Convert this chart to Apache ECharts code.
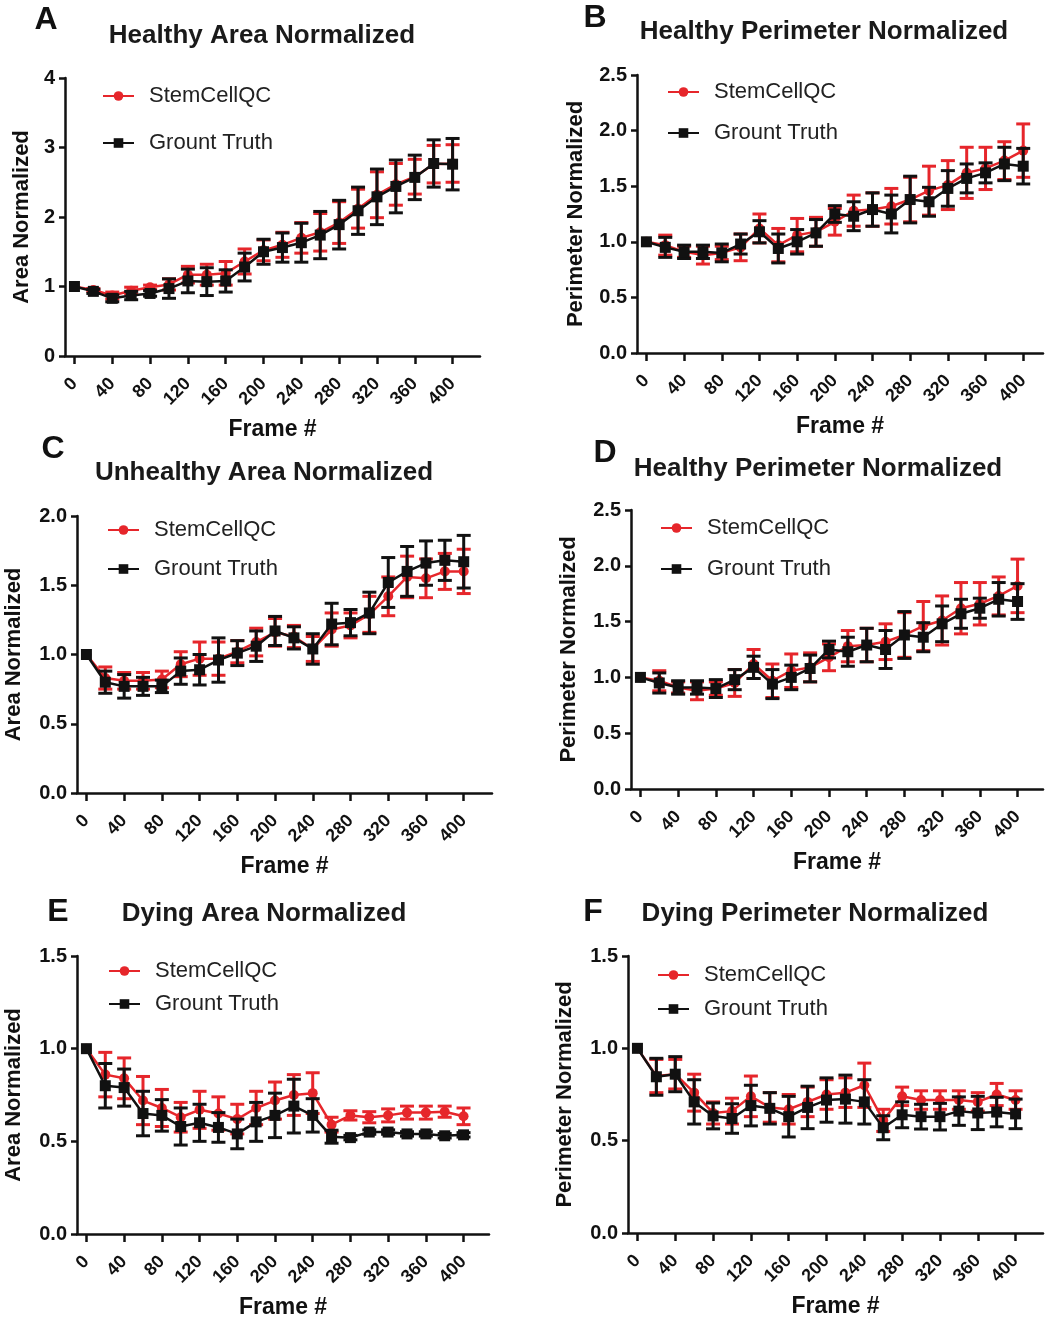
<!DOCTYPE html>
<html>
<head>
<meta charset="utf-8">
<script src="https://cdn.jsdelivr.net/npm/echarts@6/dist/echarts.min.js"></script>
<style>
  html, body { margin: 0; padding: 0; background: #fff; }
  #chart { width: 1045px; height: 1319px; }
</style>
</head>
<body>
<div id="chart"></div>
<script>
var frames = [0, 20, 40, 60, 80, 100, 120, 140, 160, 180, 200, 220, 240, 260, 280, 300, 320, 340, 360, 380, 400];
var xTicks = [0, 40, 80, 120, 160, 200, 240, 280, 320, 360, 400];

// A - healthy area
var healthyAreaQC    = [1.00, 0.95, 0.87, 0.94, 0.99, 1.03, 1.17, 1.17, 1.19, 1.36, 1.52, 1.60, 1.70, 1.78, 1.92, 2.12, 2.32, 2.47, 2.58, 2.76, 2.77];
var healthyAreaQCErr = [0, 0.02, 0.05, 0.05, 0.03, 0.08, 0.12, 0.15, 0.17, 0.18, 0.15, 0.18, 0.22, 0.27, 0.30, 0.28, 0.33, 0.30, 0.25, 0.27, 0.27];
var healthyAreaGT    = [1.00, 0.93, 0.83, 0.87, 0.90, 0.97, 1.08, 1.07, 1.08, 1.28, 1.50, 1.56, 1.63, 1.74, 1.89, 2.09, 2.29, 2.44, 2.57, 2.77, 2.76];
var healthyAreaGTErr = [0, 0.03, 0.05, 0.06, 0.04, 0.14, 0.17, 0.20, 0.16, 0.20, 0.18, 0.21, 0.28, 0.34, 0.35, 0.34, 0.40, 0.38, 0.32, 0.34, 0.37];

// B / D - healthy perimeter
var healthyPerimQC    = [1.00, 0.97, 0.91, 0.88, 0.90, 0.95, 1.12, 0.97, 1.06, 1.09, 1.18, 1.28, 1.29, 1.32, 1.38, 1.46, 1.51, 1.62, 1.66, 1.73, 1.82];
var healthyPerimQCErr = [0, 0.09, 0.05, 0.08, 0.06, 0.12, 0.13, 0.15, 0.15, 0.13, 0.12, 0.14, 0.15, 0.16, 0.20, 0.22, 0.22, 0.23, 0.19, 0.17, 0.24];
var healthyPerimGT    = [1.00, 0.95, 0.91, 0.91, 0.90, 0.98, 1.09, 0.94, 1.00, 1.08, 1.25, 1.23, 1.29, 1.25, 1.38, 1.36, 1.48, 1.57, 1.62, 1.70, 1.68];
var healthyPerimGTErr = [0, 0.09, 0.06, 0.06, 0.08, 0.09, 0.10, 0.13, 0.11, 0.12, 0.075, 0.13, 0.15, 0.17, 0.21, 0.13, 0.16, 0.13, 0.09, 0.15, 0.16];

// C - unhealthy area
var unhealthyAreaQC    = [1.00, 0.83, 0.81, 0.81, 0.82, 0.93, 0.97, 0.97, 1.02, 1.09, 1.16, 1.13, 1.04, 1.18, 1.21, 1.29, 1.42, 1.56, 1.55, 1.60, 1.60];
var unhealthyAreaQCErr = [0, 0.08, 0.06, 0.06, 0.06, 0.09, 0.12, 0.12, 0.08, 0.10, 0.10, 0.08, 0.09, 0.12, 0.09, 0.13, 0.14, 0.15, 0.14, 0.13, 0.16];
var unhealthyAreaGT    = [1.00, 0.80, 0.77, 0.77, 0.77, 0.88, 0.89, 0.96, 1.01, 1.06, 1.17, 1.12, 1.04, 1.22, 1.23, 1.30, 1.52, 1.60, 1.66, 1.68, 1.67];
var unhealthyAreaGTErr = [0, 0.08, 0.085, 0.065, 0.045, 0.095, 0.11, 0.16, 0.09, 0.11, 0.105, 0.08, 0.11, 0.15, 0.095, 0.15, 0.18, 0.18, 0.16, 0.145, 0.19];

// E - dying area
var dyingAreaQC    = [1.00, 0.86, 0.84, 0.72, 0.68, 0.63, 0.67, 0.65, 0.62, 0.68, 0.72, 0.75, 0.76, 0.59, 0.64, 0.63, 0.64, 0.655, 0.655, 0.66, 0.635];
var dyingAreaQCErr = [0, 0.12, 0.11, 0.13, 0.10, 0.08, 0.10, 0.09, 0.08, 0.09, 0.10, 0.11, 0.11, 0.04, 0.025, 0.03, 0.035, 0.035, 0.035, 0.03, 0.045];
var dyingAreaGT    = [1.00, 0.80, 0.79, 0.65, 0.64, 0.58, 0.60, 0.575, 0.54, 0.605, 0.64, 0.69, 0.64, 0.525, 0.52, 0.55, 0.55, 0.54, 0.54, 0.53, 0.535];
var dyingAreaGTErr = [0, 0.12, 0.10, 0.12, 0.085, 0.10, 0.10, 0.08, 0.08, 0.105, 0.12, 0.145, 0.09, 0.035, 0.012, 0.012, 0.012, 0.012, 0.012, 0.012, 0.012];

// F - dying perimeter
var dyingPerimQC    = [1.00, 0.85, 0.86, 0.76, 0.65, 0.66, 0.74, 0.68, 0.67, 0.71, 0.75, 0.76, 0.80, 0.61, 0.74, 0.72, 0.72, 0.72, 0.71, 0.75, 0.72];
var dyingPerimQCErr = [0, 0.09, 0.08, 0.10, 0.06, 0.07, 0.11, 0.08, 0.08, 0.08, 0.08, 0.08, 0.12, 0.06, 0.05, 0.05, 0.05, 0.05, 0.05, 0.06, 0.05];
var dyingPerimGT    = [1.00, 0.846, 0.86, 0.71, 0.634, 0.62, 0.69, 0.675, 0.63, 0.68, 0.72, 0.725, 0.71, 0.57, 0.64, 0.63, 0.63, 0.66, 0.65, 0.655, 0.645];
var dyingPerimGTErr = [0, 0.10, 0.095, 0.12, 0.07, 0.08, 0.11, 0.085, 0.11, 0.115, 0.12, 0.13, 0.12, 0.065, 0.07, 0.067, 0.072, 0.077, 0.09, 0.08, 0.08];

var RED = '#e6262b';
var BLACK = '#111111';
var FONT = '"Liberation Sans", Arial, Helvetica, sans-serif';

var panels = [
  { letter: 'A', title: 'Healthy Area Normalized', yName: 'Area Normalized', yMax: 4, yStep: 1, dec: 0,
    grid: { left: 65, top: 78, width: 415, height: 278 }, xMax: 429, yGap: 32,
    letterPos: [46, 20], titlePos: [262, 36], legendPos: [102, 85], legendGap: 25,
    qc: healthyAreaQC, qcErr: healthyAreaQCErr, gt: healthyAreaGT, gtErr: healthyAreaGTErr },
  { letter: 'B', title: 'Healthy Perimeter Normalized', yName: 'Perimeter Normalized', yMax: 2.5, yStep: 0.5, dec: 1,
    grid: { left: 637, top: 75, width: 406, height: 278 }, xMax: 421, yGap: 50,
    letterPos: [595, 18], titlePos: [824, 32], legendPos: [667, 81], legendGap: 19,
    qc: healthyPerimQC, qcErr: healthyPerimQCErr, gt: healthyPerimGT, gtErr: healthyPerimGTErr },
  { letter: 'C', title: 'Unhealthy Area Normalized', yName: 'Area Normalized', yMax: 2, yStep: 0.5, dec: 1,
    grid: { left: 77, top: 516, width: 415, height: 277 }, xMax: 430, yGap: 52,
    letterPos: [53, 449], titlePos: [264, 473], legendPos: [107, 519], legendGap: 17,
    qc: unhealthyAreaQC, qcErr: unhealthyAreaQCErr, gt: unhealthyAreaGT, gtErr: unhealthyAreaGTErr },
  { letter: 'D', title: 'Healthy Perimeter Normalized', yName: 'Perimeter Normalized', yMax: 2.5, yStep: 0.5, dec: 1,
    grid: { left: 631, top: 510, width: 412, height: 279 }, xMax: 427, yGap: 51,
    letterPos: [605, 453], titlePos: [818, 469], legendPos: [660, 517], legendGap: 19,
    qc: healthyPerimQC, qcErr: healthyPerimQCErr, gt: healthyPerimGT, gtErr: healthyPerimGTErr },
  { letter: 'E', title: 'Dying Area Normalized', yName: 'Area Normalized', yMax: 1.5, yStep: 0.5, dec: 1,
    grid: { left: 77, top: 956, width: 412, height: 278 }, xMax: 427, yGap: 52,
    letterPos: [58, 912], titlePos: [264, 914], legendPos: [108, 960], legendGap: 11,
    qc: dyingAreaQC, qcErr: dyingAreaQCErr, gt: dyingAreaGT, gtErr: dyingAreaGTErr },
  { letter: 'F', title: 'Dying Perimeter Normalized', yName: 'Perimeter Normalized', yMax: 1.5, yStep: 0.5, dec: 1,
    grid: { left: 628, top: 956, width: 415, height: 277 }, xMax: 429, yGap: 52,
    letterPos: [593, 912], titlePos: [815, 914], legendPos: [657, 964], legendGap: 12,
    qc: dyingPerimQC, qcErr: dyingPerimQCErr, gt: dyingPerimGT, gtErr: dyingPerimGTErr }
];

// error bar drawing: vertical line + two caps
function errorBars(color) {
  return function (params, api) {
    var x = api.value(0), lo = api.value(1), hi = api.value(2);
    if (hi - lo <= 0) return;
    var top = api.coord([x, hi]);
    var bot = api.coord([x, lo]);
    var cap = 7;
    var style = { stroke: color, lineWidth: 3 };
    return {
      type: 'group',
      children: [
        { type: 'line', shape: { x1: top[0], y1: top[1], x2: bot[0], y2: bot[1] }, style: style },
        { type: 'line', shape: { x1: top[0] - cap, y1: top[1], x2: top[0] + cap, y2: top[1] }, style: style },
        { type: 'line', shape: { x1: bot[0] - cap, y1: bot[1], x2: bot[0] + cap, y2: bot[1] }, style: style }
      ]
    };
  };
}

function pairs(means) {
  return frames.map(function (f, i) { return [f, means[i]]; });
}
function ranges(means, errs) {
  return frames.map(function (f, i) { return [f, means[i] - errs[i], means[i] + errs[i]]; });
}

var grids = [], xAxes = [], yAxes = [], series = [], legends = [], graphics = [];

panels.forEach(function (p, k) {
  grids.push({ left: p.grid.left, top: p.grid.top, width: p.grid.width, height: p.grid.height, outerBoundsMode: 'none' });

  xAxes.push({
    type: 'value', gridIndex: k, min: -10, max: p.xMax,
    name: 'Frame #', nameLocation: 'middle', nameGap: 62, nameMoveOverlap: false,
    nameTextStyle: { fontFamily: FONT, fontWeight: 'bold', fontSize: 23, color: BLACK },
    axisLine: { show: true, onZero: false, lineStyle: { color: BLACK, width: 2.5 } },
    axisTick: { show: true, length: 8, customValues: xTicks, lineStyle: { color: BLACK, width: 2.5 } },
    axisLabel: { customValues: xTicks, rotate: 45, margin: 25, fontFamily: FONT, fontWeight: 'bold', fontSize: 18, color: BLACK },
    splitLine: { show: false }
  });

  yAxes.push({
    type: 'value', gridIndex: k, min: 0, max: p.yMax, interval: p.yStep,
    name: p.yName, nameLocation: 'middle', nameGap: p.yGap, nameRotate: 90, nameMoveOverlap: false,
    nameTextStyle: { fontFamily: FONT, fontWeight: 'bold', fontSize: 22, color: BLACK },
    axisLine: { show: true, onZero: false, lineStyle: { color: BLACK, width: 2.5 } },
    axisTick: { show: true, length: 6, lineStyle: { color: BLACK, width: 2.5 } },
    axisLabel: {
      margin: 10, fontFamily: FONT, fontWeight: 'bold', fontSize: 20, color: BLACK,
      formatter: function (v) { return v.toFixed(p.dec); }
    },
    splitLine: { show: false }
  });

  series.push(
    { type: 'custom', xAxisIndex: k, yAxisIndex: k, renderItem: errorBars(RED),
      data: ranges(p.qc, p.qcErr), encode: { x: 0, y: [1, 2] }, z: 2, silent: true },
    { type: 'line', name: 'StemCellQC', xAxisIndex: k, yAxisIndex: k, data: pairs(p.qc),
      symbol: 'circle', symbolSize: 10, itemStyle: { color: RED },
      lineStyle: { color: RED, width: 2.5 }, z: 3, animation: false },
    { type: 'custom', xAxisIndex: k, yAxisIndex: k, renderItem: errorBars(BLACK),
      data: ranges(p.gt, p.gtErr), encode: { x: 0, y: [1, 2] }, z: 4, silent: true },
    { type: 'line', name: 'Grount Truth', xAxisIndex: k, yAxisIndex: k, data: pairs(p.gt),
      symbol: 'rect', symbolSize: 11, itemStyle: { color: BLACK },
      lineStyle: { color: BLACK, width: 2.5 }, z: 5, animation: false }
  );

  legends.push({
    left: p.legendPos[0], top: p.legendPos[1], orient: 'vertical', padding: 0,
    itemGap: p.legendGap, itemWidth: 31, itemHeight: 12, selectedMode: false,
    data: ['StemCellQC', 'Grount Truth'],
    textStyle: { fontFamily: FONT, fontSize: 22, color: '#222', padding: [0, 0, 0, 10] }
  });

  graphics.push(
    { type: 'text', x: p.letterPos[0], y: p.letterPos[1],
      style: { text: p.letter, font: 'bold 32px ' + FONT, fill: BLACK, align: 'center', verticalAlign: 'middle' } },
    { type: 'text', x: p.titlePos[0], y: p.titlePos[1],
      style: { text: p.title, font: 'bold 26px ' + FONT, fill: '#1a1a1a', align: 'center', verticalAlign: 'middle' } }
  );
});

var chart = echarts.init(document.getElementById('chart'));
chart.setOption({
  backgroundColor: '#ffffff',
  animation: false,
  grid: grids,
  xAxis: xAxes,
  yAxis: yAxes,
  legend: legends,
  graphic: graphics,
  series: series
});
</script>
</body>
</html>
